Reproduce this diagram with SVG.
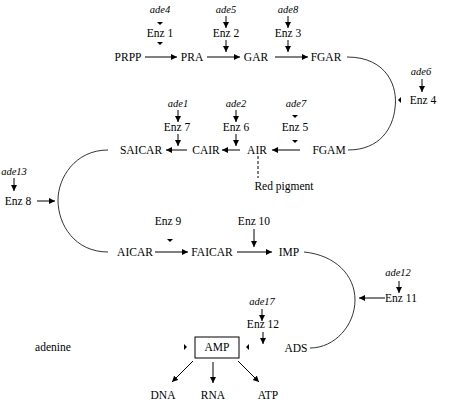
<svg xmlns="http://www.w3.org/2000/svg" width="453" height="404" viewBox="0 0 453 404">
<style>
text{font-family:Times,'Times New Roman','Liberation Serif','DejaVu Serif',serif;font-size:11.5px;fill:#000;text-anchor:middle}
.g{font-style:italic;font-size:10.5px}
.l{stroke:#000;stroke-width:1;fill:none}
.c{stroke:#000;stroke-width:0.8;fill:none}
.h{fill:#000}
</style>
<defs>
<marker id="a" markerWidth="8" markerHeight="8" refX="6" refY="3" orient="auto" markerUnits="userSpaceOnUse"><path d="M0,0L6,3L0,6z" fill="#000"/></marker>
</defs>
<g id="labels">
<text class="g" x="160" y="13">ade4</text>
<text class="g" x="226" y="13">ade5</text>
<text class="g" x="288" y="13">ade8</text>
<text x="160" y="37">Enz 1</text>
<text x="226" y="37">Enz 2</text>
<text x="288" y="37">Enz 3</text>
<text class="g" x="421" y="75">ade6</text>
<text x="423" y="104">Enz 4</text>
<text class="g" x="178" y="107">ade1</text>
<text class="g" x="236" y="107">ade2</text>
<text class="g" x="296" y="107">ade7</text>
<text x="177" y="131">Enz 7</text>
<text x="236" y="131">Enz 6</text>
<text x="295" y="131">Enz 5</text>
<text x="284" y="190">Red pigment</text>
<text class="g" x="14" y="175">ade13</text>
<text x="18" y="205">Enz 8</text>
<text x="168" y="225">Enz 9</text>
<text x="254" y="225">Enz 10</text>
<text class="g" x="398" y="276">ade12</text>
<text x="401" y="302">Enz 11</text>
<text class="g" x="262" y="305">ade17</text>
<text x="263" y="328">Enz 12</text>
<text x="53" y="351">adenine</text>
</g>
<g id="n-PRPP"><text x="128" y="61">PRPP</text></g>
<g id="n-PRA"><text x="192" y="61">PRA</text></g>
<g id="n-GAR"><text x="256" y="61">GAR</text></g>
<g id="n-FGAR"><text x="326" y="61">FGAR</text></g>
<g id="n-FGAM"><text x="329" y="154">FGAM</text></g>
<g id="n-AIR"><text x="257" y="154">AIR</text></g>
<g id="n-CAIR"><text x="206" y="154">CAIR</text></g>
<g id="n-SAICAR"><text x="141" y="154">SAICAR</text></g>
<g id="n-AICAR"><text x="135" y="256">AICAR</text></g>
<g id="n-FAICAR"><text x="212" y="256">FAICAR</text></g>
<g id="n-IMP"><text x="289" y="256">IMP</text></g>
<g id="n-ADS"><text x="296" y="352">ADS</text></g>
<g id="n-AMP"><rect x="195" y="337" width="44" height="21" fill="none" stroke="#000" stroke-width="1"/><text x="217" y="351">AMP</text></g>
<g id="n-DNA"><text x="163" y="399">DNA</text></g>
<g id="n-RNA"><text x="213" y="399">RNA</text></g>
<g id="n-ATP"><text x="268" y="399">ATP</text></g>
<g id="connectors">
<path class="l" marker-end="url(#a)" d="M145,57H177"/>
<path class="l" marker-end="url(#a)" d="M207,57H240"/>
<path class="l" marker-end="url(#a)" d="M275,57H308"/>
<path class="l" marker-end="url(#a)" d="M226,16V28"/>
<path class="l" marker-end="url(#a)" d="M226,40V52"/>
<path class="l" marker-end="url(#a)" d="M288,16V28"/>
<path class="l" marker-end="url(#a)" d="M288,40V52"/>
<path class="h" d="M157,22L163,22L160,25z"/>
<path class="h" d="M157,42L163,42L160,45z"/>
<path class="c" d="M347,57C388,57 398,88 395,108C393,128 380,150 348,150"/>
<path class="l" marker-end="url(#a)" d="M422,79V92"/>
<path class="h" d="M401,97L401,103L398,100z"/>
<path class="l" marker-end="url(#a)" d="M300,150H272"/>
<path class="l" marker-end="url(#a)" d="M240,150H222"/>
<path class="l" marker-end="url(#a)" d="M187,150H166"/>
<path class="l" marker-end="url(#a)" d="M178,110V122"/>
<path class="l" marker-end="url(#a)" d="M178,134V146"/>
<path class="l" marker-end="url(#a)" d="M236,110V122"/>
<path class="l" marker-end="url(#a)" d="M236,134V146"/>
<path class="h" d="M292,115L298,115L295,118z"/>
<path class="h" d="M292,140L298,140L295,143z"/>
<path class="l" stroke-dasharray="3,2" d="M258,156V178"/>
<path class="c" d="M108,150C75,150 58,178 58,200C58,225 75,252 108,252"/>
<path class="l" marker-end="url(#a)" d="M14,178V191"/>
<path class="l" marker-end="url(#a)" d="M37,201H55"/>
<path class="l" marker-end="url(#a)" d="M155,252H188"/>
<path class="l" marker-end="url(#a)" d="M237,252H272"/>
<path class="h" d="M167,239L173,239L170,242z"/>
<path class="l" marker-end="url(#a)" d="M254,229V247"/>
<path class="c" d="M304,252C335,255 355,275 355,300C355,325 335,348 310,348"/>
<path class="l" marker-end="url(#a)" d="M399,281V293"/>
<path class="l" marker-end="url(#a)" d="M385,298H359"/>
<path class="l" marker-end="url(#a)" d="M262,309V321"/>
<path class="l" marker-end="url(#a)" d="M263,332V344"/>
<path class="h" d="M184,344L184,350L187,347z"/>
<path class="h" d="M249,344L249,350L246,347z"/>
<path class="l" marker-end="url(#a)" d="M193,361L172,382"/>
<path class="l" marker-end="url(#a)" d="M213,362V383"/>
<path class="l" marker-end="url(#a)" d="M238,361L259,382"/>
</g>
</svg>
